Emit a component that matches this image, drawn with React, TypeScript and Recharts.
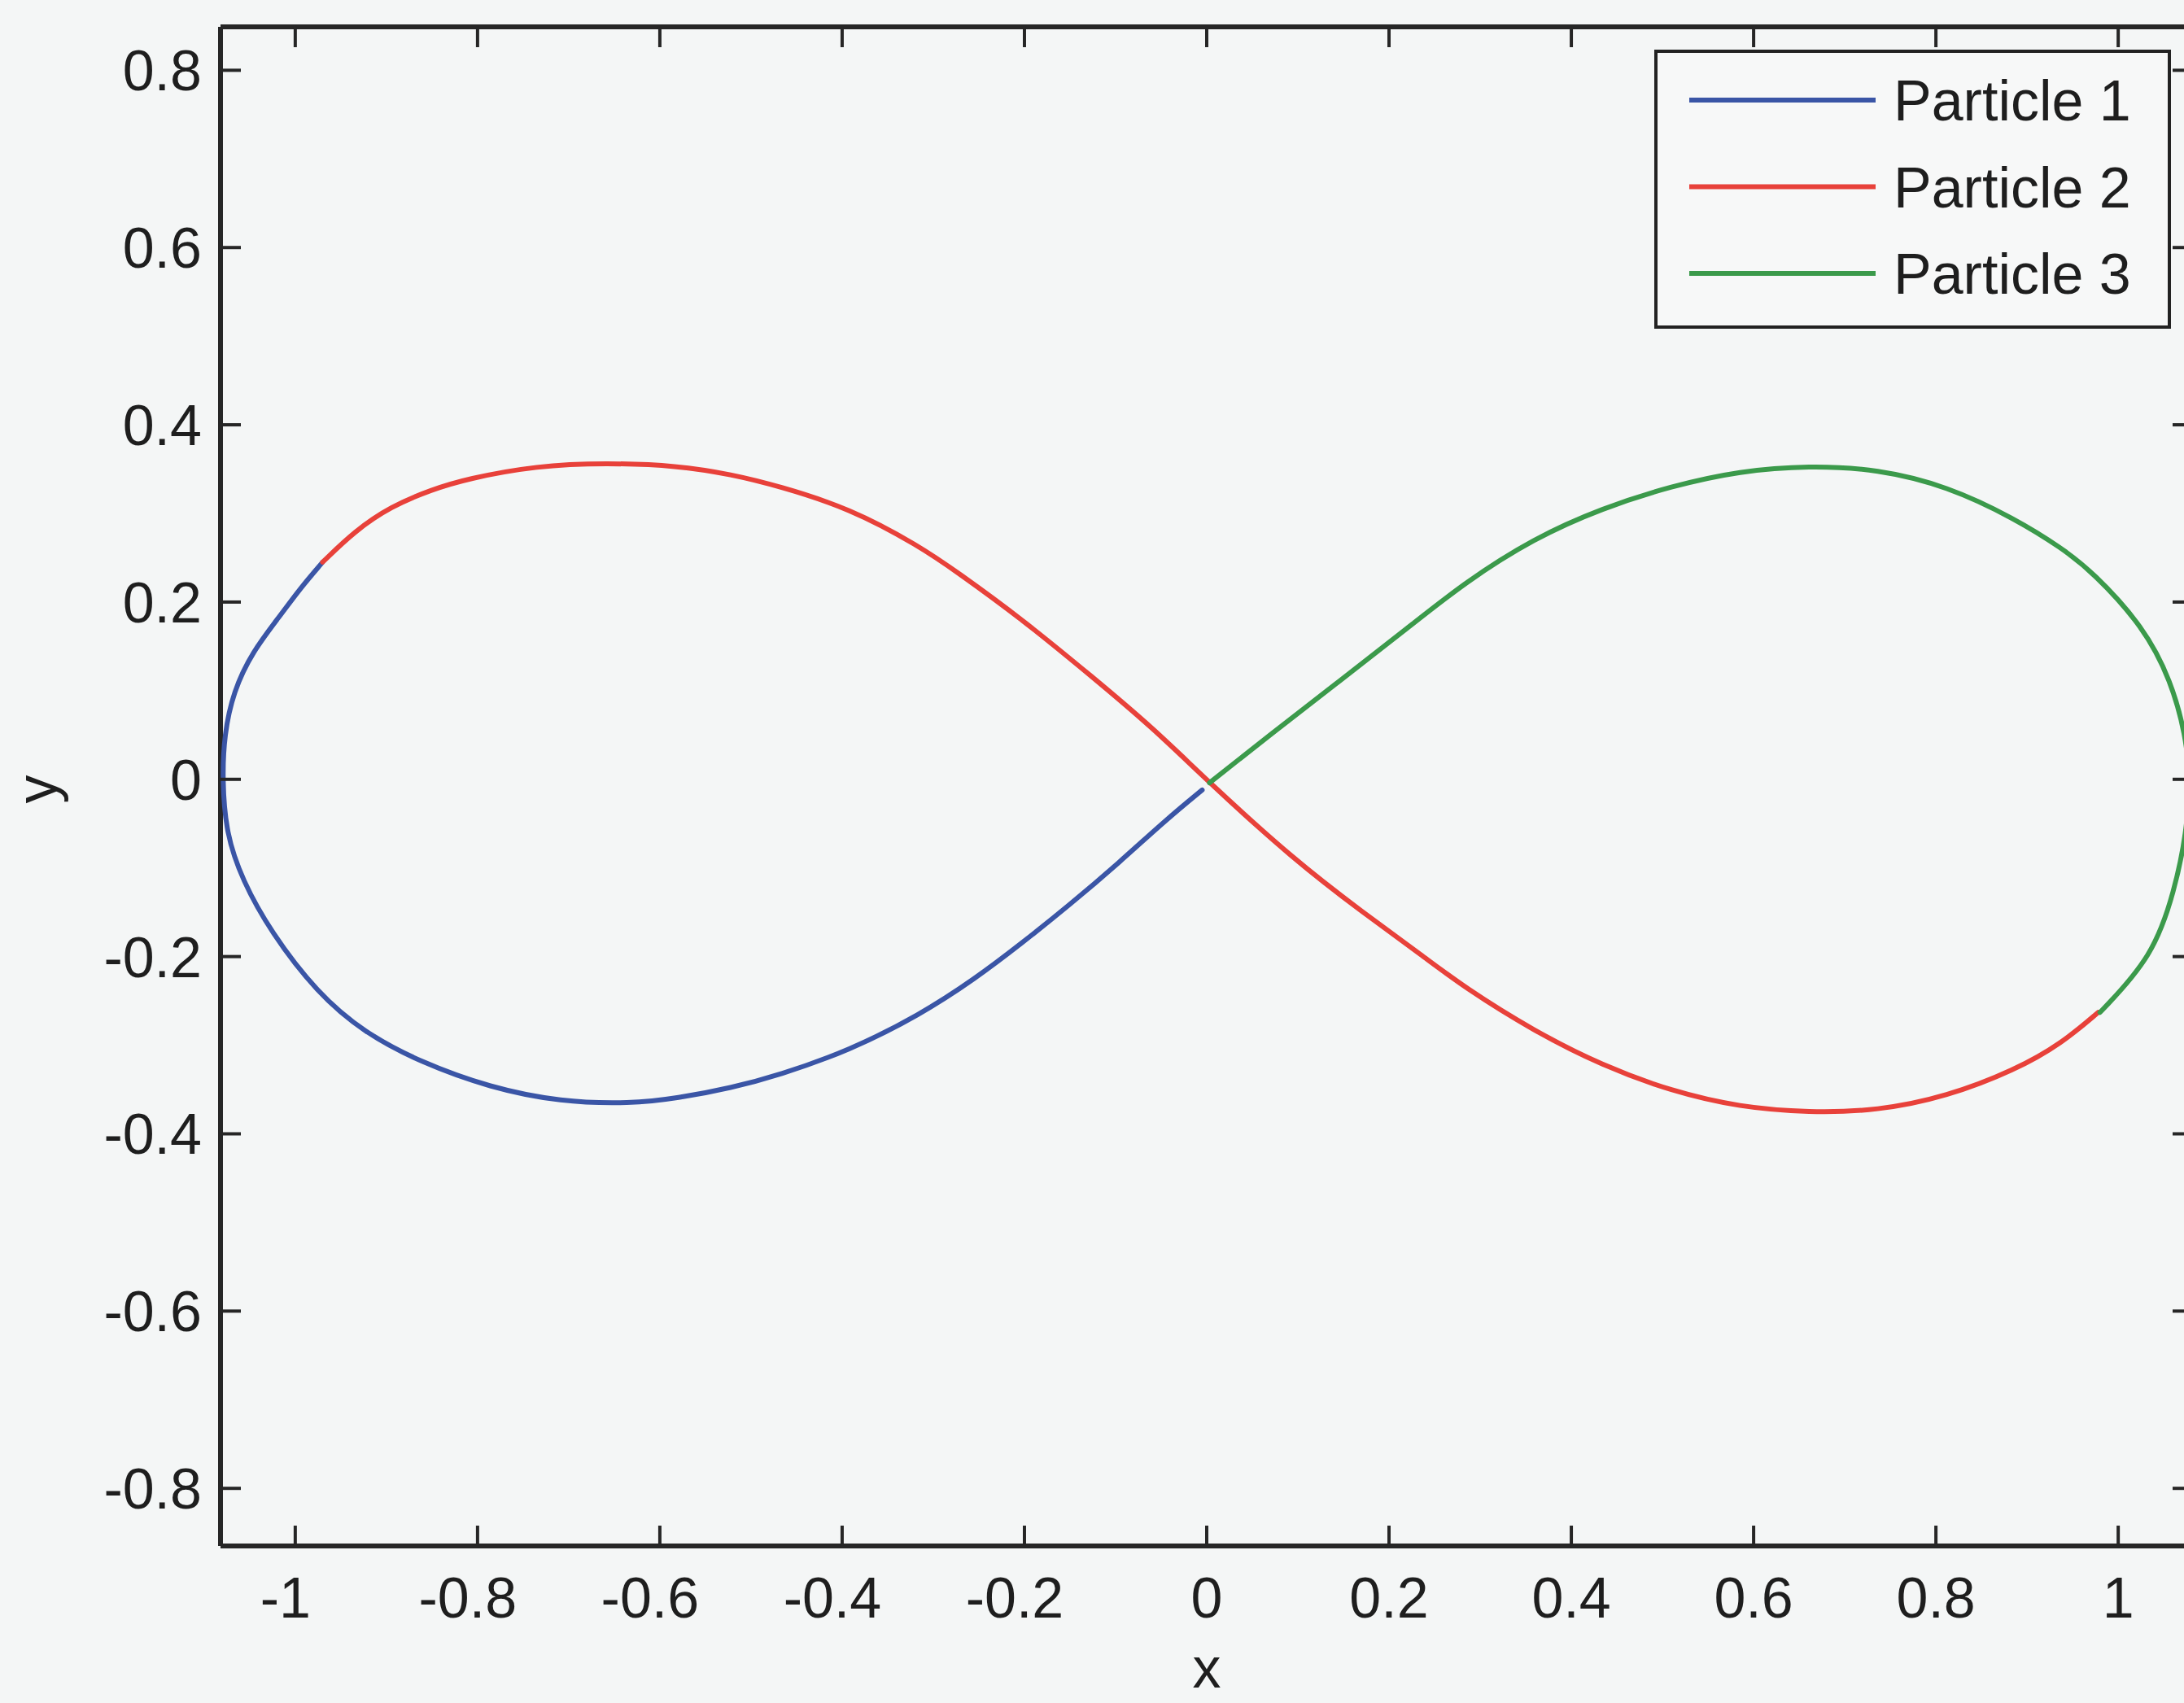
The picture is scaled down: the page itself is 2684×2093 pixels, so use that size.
import React from 'react';
import { ScatterChart, Scatter, XAxis, YAxis, Legend, ReferenceLine } from 'recharts';

// Particle trajectories: [x, y]
const particle1: [number, number][] = [
  [-0.970, 0.245], [-0.995, 0.215], [-1.017, 0.184], [-1.047, 0.144], [-1.068, 0.099],
  [-1.078, 0.050], [-1.080, 0.000], [-1.076, -0.061], [-1.058, -0.114], [-1.027, -0.172],
  [-0.976, -0.241], [-0.924, -0.286], [-0.863, -0.319], [-0.786, -0.348], [-0.709, -0.364],
  [-0.632, -0.366], [-0.581, -0.360], [-0.521, -0.348], [-0.470, -0.334], [-0.392, -0.306],
  [-0.315, -0.266], [-0.254, -0.225], [-0.203, -0.185], [-0.152, -0.143], [-0.096, -0.094],
  [-0.044, -0.045], [-0.005, -0.012],
];

const particle2: [number, number][] = [
  [-0.970, 0.245], [-0.935, 0.280], [-0.895, 0.308], [-0.850, 0.327], [-0.812, 0.339],
  [-0.735, 0.354], [-0.658, 0.357], [-0.581, 0.354], [-0.521, 0.344], [-0.470, 0.331],
  [-0.392, 0.306], [-0.315, 0.263], [-0.274, 0.234], [-0.203, 0.181], [-0.126, 0.116],
  [-0.059, 0.058], [0.003, -0.004], [0.095, -0.090], [0.171, -0.150], [0.238, -0.200],
  [0.283, -0.235], [0.359, -0.284], [0.434, -0.323], [0.510, -0.352], [0.585, -0.370],
  [0.661, -0.376], [0.736, -0.374], [0.812, -0.358], [0.887, -0.328], [0.938, -0.298],
  [0.978, -0.263],
];

const particle3: [number, number][] = [
  [0.003, -0.004], [0.069, 0.050], [0.146, 0.111], [0.222, 0.172], [0.283, 0.222],
  [0.359, 0.272], [0.434, 0.306], [0.510, 0.331], [0.585, 0.348], [0.661, 0.354],
  [0.736, 0.350], [0.812, 0.331], [0.887, 0.294], [0.938, 0.261], [0.972, 0.234],
  [1.028, 0.172], [1.058, 0.111], [1.074, 0.050], [1.079, 0.000], [1.075, -0.060],
  [1.062, -0.125], [1.038, -0.200], [0.980, -0.263],
];

const seriesNames = ['Particle 1', 'Particle 2', 'Particle 3'];
const seriesColors = ['#3a55a6', '#e8413a', '#3b9a4b'];
const xTicks = [-1, -0.8, -0.6, -0.4, -0.2, 0, 0.2, 0.4, 0.6, 0.8, 1];
const yTicks = [-0.8, -0.6, -0.4, -0.2, 0, 0.2, 0.4, 0.6, 0.8];
const xDomain: [number, number] = [-1.082, 1.082];
const yDomain: [number, number] = [-0.865, 0.849];
const xLabel = 'x';
const yLabel = 'y';

const FONT = "'Liberation Sans', Arial, Helvetica, sans-serif";
const AXIS = '#262626';
const TEXT = '#1e1e1e';
const BG = '#f4f6f6';
const TICK_LEN = 25;
const FS = 70;
const PLOT_TOP = 33;
const PLOT_RIGHT = 2695;

const toPoints = (arr: [number, number][]) => arr.map(([x, y]) => ({ x, y }));
const fmt = (v: number) => String(Math.round(v * 10) / 10);

const NoShape = () => <g />;

const BottomTick = (props: any) => {
  const { x, y, payload } = props;
  const v = payload.value as number;
  return (
    <g>
      <line x1={x} x2={x} y1={y} y2={y - TICK_LEN} stroke={AXIS} strokeWidth={4} />
      <line x1={x} x2={x} y1={PLOT_TOP} y2={PLOT_TOP + TICK_LEN} stroke={AXIS} strokeWidth={4} />
      <text x={x + (v < 0 ? -12 : 0)} y={y + 88} textAnchor="middle" fontSize={FS} fontFamily={FONT} fill={TEXT}>
        {fmt(v)}
      </text>
    </g>
  );
};

const LeftTick = (props: any) => {
  const { x, y, payload } = props;
  const v = payload.value as number;
  return (
    <g>
      <line x1={x} x2={x + TICK_LEN} y1={y} y2={y} stroke={AXIS} strokeWidth={4} />
      <line x1={PLOT_RIGHT} x2={PLOT_RIGHT - TICK_LEN} y1={y} y2={y} stroke={AXIS} strokeWidth={4} />
      <text x={x - 23} y={y} dy={25} textAnchor="end" fontSize={FS} fontFamily={FONT} fill={TEXT}>
        {fmt(v)}
      </text>
    </g>
  );
};

const XLabel = () => (
  <text x={1483} y={2074} textAnchor="middle" fontSize={FS} fontFamily={FONT} fill={TEXT}>
    {xLabel}
  </text>
);

const YLabel = () => (
  <text x={0} y={0} transform="translate(69,970) rotate(-90)" textAnchor="middle" fontSize={FS} fontFamily={FONT} fill={TEXT}>
    {yLabel}
  </text>
);

const LegendBox = (props: any) => {
  const payload = (props.payload || []) as any[];
  return (
    <svg width={635} height={343} style={{ display: 'block' }}>
      <rect x={2} y={2} width={631} height={339} fill="#f7f8f8" stroke="#222" strokeWidth={4} />
      {payload.map((entry, i) => {
        const cy = 62 + i * 106.5;
        return (
          <g key={i}>
            <line x1={43} x2={272} y1={cy} y2={cy} stroke={entry.color} strokeWidth={6} />
            <text x={294} y={cy + 25} fontSize={FS} fontFamily={FONT} fill={TEXT}>
              {entry.value}
            </text>
          </g>
        );
      })}
    </svg>
  );
};

const seriesData = [particle1, particle2, particle3];

export default function App() {
  return (
    <div style={{ position: 'absolute', left: 0, top: 0, width: 2684, height: 2093, overflow: 'hidden', background: BG }}>
      <ScatterChart width={2720} height={2093} margin={{ top: PLOT_TOP, right: 2720 - PLOT_RIGHT, bottom: 0, left: 0 }}>
        <XAxis
          type="number"
          dataKey="x"
          domain={xDomain}
          allowDataOverflow
          ticks={xTicks}
          interval={0}
          height={193}
          tickSize={0}
          tickMargin={0}
          tickLine={false}
          axisLine={{ stroke: AXIS, strokeWidth: 6 }}
          tick={BottomTick}
          label={XLabel}
        />
        <YAxis
          type="number"
          dataKey="y"
          domain={yDomain}
          allowDataOverflow
          ticks={yTicks}
          interval={0}
          width={271}
          tickSize={0}
          tickMargin={0}
          tickLine={false}
          axisLine={{ stroke: AXIS, strokeWidth: 6 }}
          tick={LeftTick}
          label={YLabel}
        />
        <ReferenceLine y={yDomain[1]} stroke={AXIS} strokeWidth={6} ifOverflow="visible" />
        <ReferenceLine x={xDomain[1]} stroke={AXIS} strokeWidth={6} ifOverflow="visible" />
        {seriesData.map((arr, i) => (
          <Scatter
            key={seriesNames[i]}
            name={seriesNames[i]}
            data={toPoints(arr)}
            fill={seriesColors[i]}
            line={{ stroke: seriesColors[i], strokeWidth: 6, strokeLinejoin: 'round', strokeLinecap: 'round' }}
            lineType="joint"
            lineJointType="basis"
            shape={NoShape}
            legendType="line"
            isAnimationActive={false}
          />
        ))}
        <Legend
          layout="horizontal"
          verticalAlign="middle"
          align="center"
          wrapperStyle={{ left: 2033, top: 61, width: 635, height: 343 }}
          content={LegendBox}
        />
      </ScatterChart>
    </div>
  );
}
